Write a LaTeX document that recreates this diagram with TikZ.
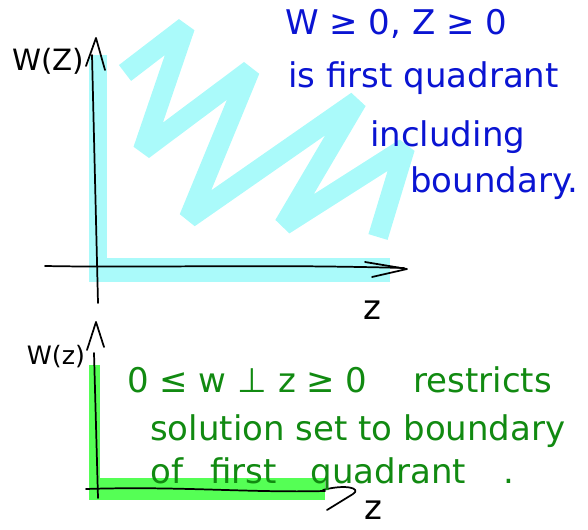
\documentclass[tikz,border=0pt]{standalone}
\usepackage{fontspec}
\setmainfont{DejaVu Sans}
\definecolor{hlcyan}{HTML}{AAFAFA}
\definecolor{hlgreen}{HTML}{55FF55}
\definecolor{inkblue}{HTML}{0A14D2}
\definecolor{inkgreen}{HTML}{118A11}

\begin{document}
\begin{tikzpicture}[
  x=0.75pt,y=-0.75pt,
  line cap=round,line join=round,
  pen/.style={draw=black,line width=1.3pt},
  cyanband/.style={draw=hlcyan,line cap=butt,line join=bevel},
  greenband/.style={draw=hlgreen,line cap=butt},
  bluenote/.style={font=\fontsize{25.5}{30}\selectfont,text=inkblue,anchor=base west,inner sep=0pt},
  greennote/.style={font=\fontsize{25.5}{30}\selectfont,text=inkgreen,anchor=base west,inner sep=0pt},
  axlabel/.style={text=black,inner sep=0pt}
]
\useasboundingbox (0,0) rectangle (588,530);

% Top plot: highlighted first quadrant
\draw[cyanband,line width=13.5pt] (98,55) -- (98,282);
\draw[cyanband,line width=18pt] (90,270) -- (390,270);
\draw[cyanband,line width=15pt]
  (125,73) -- (185,27) -- (143,150) -- (250,70) -- (189,218)
  -- (357,101) -- (284,225) -- (405,148) -- (378,237);

% Top plot: axes
\draw[pen] (98,303) -- (92,55);
\draw[pen] (86,66) -- (96,38) -- (105,70);
\draw[pen] (45,266) .. controls (150,268) and (260,264) .. (404,268);
\draw[pen] (365,262) -- (407,269) -- (372,277);
\node[axlabel,font=\fontsize{22}{26}\selectfont] (wtop) at (48,61) {W(Z)};
\node[axlabel,font=\fontsize{25.5}{30}\selectfont] (ztop) at (372,310) {z};

% Top plot: note
\node[bluenote] (b1) at (285,35) {W ≥ 0, Z ≥ 0};
\node[bluenote] (b2) at (288,88) {is first quadrant};
\node[bluenote] (b3) at (370,147) {including};
\node[bluenote] (b4) at (410,193) {boundary.};

% Bottom plot: highlighted boundary only
\draw[greenband,line width=8.5pt] (94.5,365) -- (94.5,498);
\draw[greenband,line width=16.5pt] (89,489) -- (325,489);

% Bottom plot: axes
\draw[pen] (98,498) -- (94,353);
\draw[pen] (87,350) -- (96,322) -- (104,347);
\draw[pen] (86,489) .. controls (180,486) and (250,493) .. (325,491);
\draw[pen] (323,490) .. controls (345,484) and (362,488) .. (353,494) -- (327,510);
\node[axlabel,font=\fontsize{25.5}{30}\selectfont] (zbot) at (373,510) {z};
\node[axlabel,font=\fontsize{19}{23}\selectfont] (wbot) at (56,357) {W(z)};

% Bottom plot: note
\node[greennote] (g1) at (127,392) {0 ≤ w ⊥ z ≥ 0\hspace{1.35em}restricts};
\node[greennote] (g2) at (150,440) {solution set to boundary};
\node[greennote] (g3) at (150,483) {of\hspace{0.8em}first\hspace{1em}quadrant\hspace{1.1em}.};

\end{tikzpicture}
\end{document}
